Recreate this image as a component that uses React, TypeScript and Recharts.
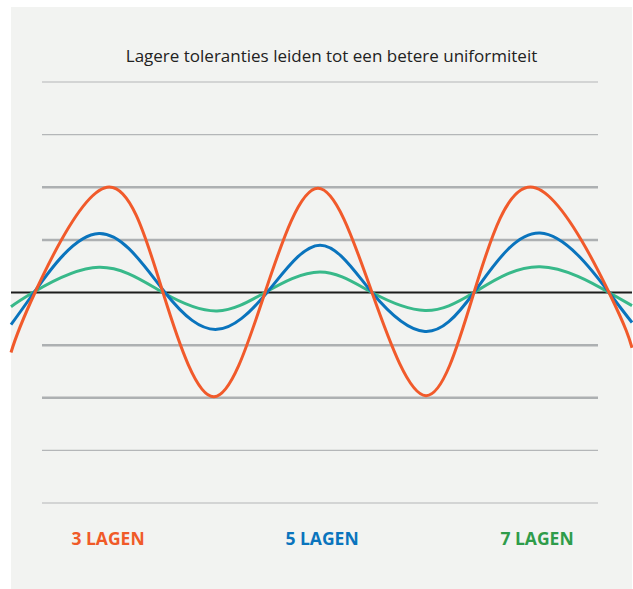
import React from 'react';
import { LineChart, Line, XAxis, YAxis, ReferenceLine } from 'recharts';

// wave samples: x = horizontal position, v = level (one gridline = 1)
const redWave = [
  { x: 11, v: -1.14 }, { x: 35, v: 0 }, { x: 107, v: 2.0 }, { x: 163, v: 0 }, { x: 214, v: -1.98 },
  { x: 265, v: 0 }, { x: 318, v: 1.98 }, { x: 372, v: 0 }, { x: 426, v: -1.96 }, { x: 474, v: 0 },
  { x: 533, v: 2.0 }, { x: 609, v: 0 }, { x: 632, v: -1.05 }
];

const blueWave = [
  { x: 11, v: -0.61 }, { x: 34, v: 0 }, { x: 99, v: 1.12 }, { x: 165, v: 0 }, { x: 217, v: -0.7 },
  { x: 267, v: 0 }, { x: 320, v: 0.9 }, { x: 372, v: 0 }, { x: 425, v: -0.74 }, { x: 474, v: 0 },
  { x: 540, v: 1.13 }, { x: 609, v: 0 }, { x: 632, v: -0.57 }
];

const greenWave = [
  { x: 11, v: -0.27 }, { x: 33, v: 0 }, { x: 99, v: 0.48 }, { x: 163, v: 0 }, { x: 217, v: -0.35 },
  { x: 265, v: 0 }, { x: 320, v: 0.39 }, { x: 372, v: 0 }, { x: 425, v: -0.34 }, { x: 474, v: 0 },
  { x: 540, v: 0.49 }, { x: 609, v: 0 }, { x: 632, v: -0.25 }
];

const thinLevels = [4, 3, -3, -4];
const thickLevels = [2, 1, -1, -2];

const title = 'Lagere toleranties leiden tot een betere uniformiteit';
const labels = [
  { text: '3 LAGEN', color: '#f05a28', x: 108 },
  { text: '5 LAGEN', color: '#0a74bd', x: 322 },
  { text: '7 LAGEN', color: '#2f9c4a', x: 537 }
];

const RED = '#f15a2b';
const BLUE = '#0a74bd';
const GREEN = '#38b98a';

export default function App() {
  return (
    <div style={{ position: 'absolute', left: 0, top: 0, width: 633, height: 589, background: '#fff' }}>
      <div style={{ position: 'absolute', left: 11, top: 7, width: 621, height: 582, background: '#f2f3f1' }} />
      <div
        style={{
          position: 'absolute', left: 0, top: 44, width: 663, textAlign: 'center',
          fontFamily: '"Open Sans", sans-serif', fontSize: 17, color: '#222', lineHeight: '24px'
        }}
      >
        {title}
      </div>
      <div style={{ position: 'absolute', left: 0, top: 0 }}>
        <LineChart
          width={633}
          height={589}
          margin={{ top: 82, right: 1, bottom: 86, left: 11 }}
        >
          <XAxis dataKey="x" type="number" domain={[11, 632]} hide allowDuplicatedCategory={false} />
          <YAxis type="number" domain={[-4, 4]} hide />
          {thinLevels.map((lv) => (
            <ReferenceLine
              key={'t' + lv}
              segment={[{ x: 42, y: lv }, { x: 598, y: lv }]}
              stroke="#b4b6b8"
              strokeWidth={1.2}
            />
          ))}
          {thickLevels.map((lv) => (
            <ReferenceLine
              key={'k' + lv}
              segment={[{ x: 42, y: lv }, { x: 598, y: lv }]}
              stroke="#adb0b2"
              strokeWidth={2.5}
            />
          ))}
          <ReferenceLine y={0} stroke="#1c1c1c" strokeWidth={2} />
          <Line data={greenWave} dataKey="v" type="natural" stroke={GREEN} strokeWidth={3} dot={false} isAnimationActive={false} />
          <Line data={blueWave} dataKey="v" type="natural" stroke={BLUE} strokeWidth={3} dot={false} isAnimationActive={false} />
          <Line data={redWave} dataKey="v" type="natural" stroke={RED} strokeWidth={3} dot={false} isAnimationActive={false} />
        </LineChart>
      </div>
      {labels.map((l) => (
        <div
          key={l.text}
          style={{
            position: 'absolute', left: l.x - 60, top: 527, width: 120, textAlign: 'center',
            fontFamily: '"Open Sans", sans-serif', fontWeight: 700, fontSize: 17.5, color: l.color,
            lineHeight: '22px'
          }}
        >
          {l.text}
        </div>
      ))}
    </div>
  );
}
